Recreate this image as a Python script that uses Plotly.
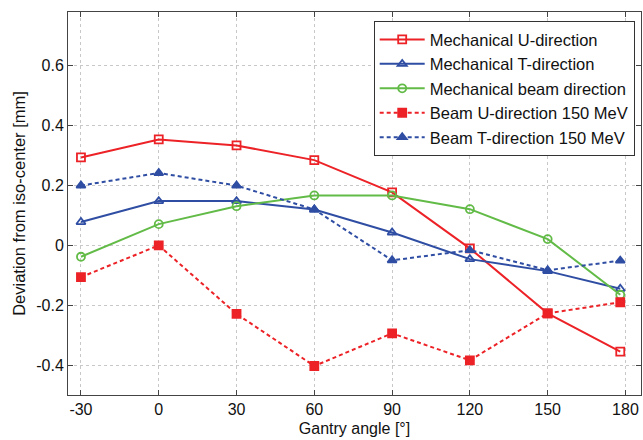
import plotly.graph_objects as go

angles = [-30, 0, 30, 60, 90, 120, 150, 178]
mech_u = [0.294, 0.354, 0.334, 0.285, 0.177, -0.010, -0.227, -0.355]
mech_t = [0.078, 0.148, 0.148, 0.120, 0.043, -0.046, -0.086, -0.145]
mech_beam = [-0.038, 0.071, 0.131, 0.167, 0.167, 0.121, 0.021, -0.165]
beam_u = [-0.106, 0.000, -0.229, -0.403, -0.294, -0.384, -0.227, -0.190]
beam_t = [0.200, 0.242, 0.200, 0.120, -0.050, -0.016, -0.083, -0.051]

x_ticks = [-30, 0, 30, 60, 90, 120, 150, 180]
x_tick_labels = ["-30", "0", "30", "60", "90", "120", "150", "180"]
y_ticks = [-0.4, -0.2, 0, 0.2, 0.4, 0.6]
y_tick_labels = ["-0.4", "-0.2", "0", "0.2", "0.4", "0.6"]

RED = "#ec2227"
BLUE = "#2f4ea3"
GREEN = "#62bb47"

series = [
    ("Mechanical U-direction", mech_u, RED, "solid", "square-open"),
    ("Mechanical T-direction", mech_t, BLUE, "solid", "triangle-up-open"),
    ("Mechanical beam direction", mech_beam, GREEN, "solid", "circle-open"),
    ("Beam U-direction 150 MeV", beam_u, RED, "dash", "square"),
    ("Beam T-direction 150 MeV", beam_t, BLUE, "dash", "triangle-up"),
]

fig = go.Figure()
for name, vals, color, dash, sym in series:
    fig.add_trace(go.Scatter(
        x=angles, y=vals, name=name, mode="lines+markers",
        line=dict(color=color, width=2, dash="solid" if dash == "solid" else "4px,3px"),
        marker=dict(symbol=sym, size=8, color=color,
                    line=dict(color=color, width=1.8)),
    ))

axis_common = dict(
    showline=True, linecolor="#444", linewidth=1, mirror="ticks",
    ticks="inside", ticklen=5, tickcolor="#444",
    showgrid=True, gridcolor="#c8c8c8", griddash="dot", gridwidth=1,
    zeroline=False, tickfont=dict(size=16, color="#111"),
)

fig.update_layout(
    width=643, height=440,
    margin=dict(l=68, r=2, t=12, b=45),
    paper_bgcolor="white", plot_bgcolor="white",
    font=dict(family="Liberation Sans, Arial, sans-serif", color="#111"),
    xaxis=dict(range=[-35, 186], tickvals=x_ticks, ticktext=x_tick_labels,
               title=dict(text="Gantry angle [°]", font=dict(size=16), standoff=5),
               **axis_common),
    yaxis=dict(range=[-0.5, 0.78], tickvals=y_ticks, ticktext=y_tick_labels,
               title=dict(text="Deviation from iso-center [mm]", font=dict(size=16.5), standoff=6),
               **axis_common),
    legend=dict(x=0.989, y=0.976, xanchor="right", yanchor="top",
                bordercolor="#333", borderwidth=1, bgcolor="white",
                font=dict(size=16.5), tracegroupgap=0, itemwidth=45),
    showlegend=True,
)

fig.write_html("out.html")
